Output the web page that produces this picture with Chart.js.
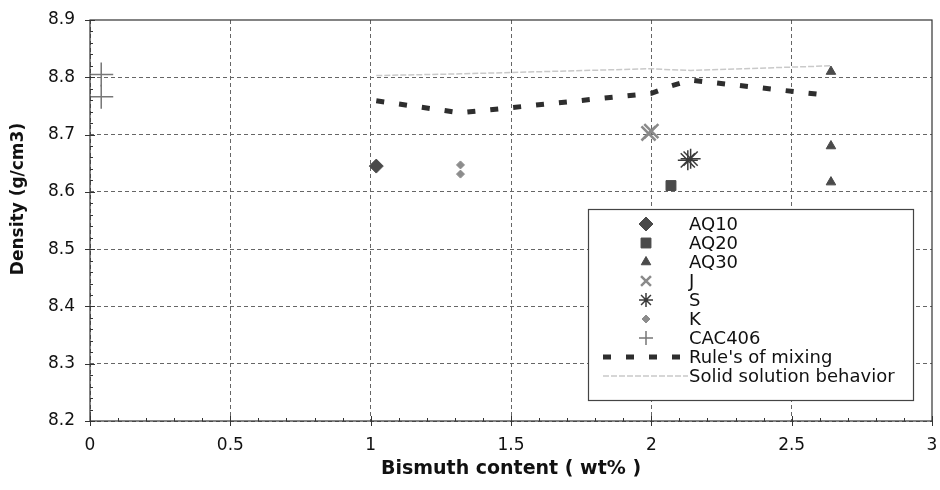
<!DOCTYPE html>
<html>
<head>
<meta charset="utf-8">
<script src="https://cdn.jsdelivr.net/npm/chart.js@4/dist/chart.umd.min.js"></script>
<style>
  html, body { margin: 0; padding: 0; background: #fff; }
  #wrap { width: 940px; height: 490px; position: relative; }
</style>
</head>
<body>
<div id="wrap"><canvas id="chart"></canvas></div>
<script>
// tick labels
const xTicks = [0, 0.5, 1, 1.5, 2, 2.5, 3];
const yTicks = [8.2, 8.3, 8.4, 8.5, 8.6, 8.7, 8.8, 8.9];

// measured densities (x = wt% Bi, y = g/cm3)
const aq10 = [[1.02, 8.645]];
const aq20 = [[2.07, 8.611]];
const aq30 = [[2.64, 8.81], [2.64, 8.68], [2.64, 8.617]];
const jSamples = [[1.99, 8.702], [2.0, 8.706]];
const sSamples = [[2.13, 8.655], [2.14, 8.658]];
const kSamples = [[1.32, 8.647], [1.32, 8.631]];
const cac406 = [[0.04, 8.805], [0.04, 8.766]];

// model curves
const modelX = [1.02, 1.32, 2.0, 2.07, 2.14, 2.64];
const mixingY = [8.759, 8.738, 8.772, 8.785, 8.795, 8.768];
const solidY = [8.803, 8.806, 8.815, 8.813, 8.812, 8.82];

const pts = arr => arr.map(p => ({ x: p[0], y: p[1] }));
const curve = ys => modelX.map((x, i) => ({ x: x, y: ys[i] }));
const FONT = '"DejaVu Sans", Arial, sans-serif';

const marker = (label, data, style, radius, color, width, filled) => ({
    label, data: pts(data), showLine: false,
    pointStyle: style, pointRadius: radius,
    pointBackgroundColor: filled ? color : 'transparent',
    pointBorderColor: color, pointBorderWidth: width
});

const datasets = [
    marker('AQ10', aq10, 'rectRot', 7, '#4a4a4a', 1, true),
    marker('AQ20', aq20, 'rect', 7, '#4a4a4a', 1, true),
    marker('AQ30', aq30, 'triangle', 5.5, '#4a4a4a', 1, true),
    marker('J', jSamples, 'crossRot', 10, '#8a8a8a', 2.5, false),
    marker('S', sSamples, 'star', 10, '#3a3a3a', 1.5, false),
    marker('K', kSamples, 'rectRot', 4, '#8c8c8c', 1, true),
    marker('CAC406', cac406, 'cross', 12, '#777777', 1.5, false),
    {
        label: "Rule's of mixing", data: curve(mixingY), showLine: true,
        borderColor: '#2e2e2e', borderWidth: 5, borderDash: [8, 15],
        pointRadius: 0, tension: 0
    },
    {
        label: 'Solid solution behavior', data: curve(solidY), showLine: true,
        borderColor: '#c9c9c9', borderWidth: 1.5, borderDash: [6, 2],
        pointRadius: 0, tension: 0
    }
];

// frame, minor ticks, y title and the boxed legend inside the plot
const decorations = {
    id: 'decorations',
    afterDatasetsDraw(chart) {
        const { ctx, chartArea: a, scales: { x, y } } = chart;
        ctx.save();
        ctx.strokeStyle = '#333';
        ctx.lineWidth = 1.2;
        ctx.setLineDash([]);
        ctx.strokeRect(a.left, a.top, a.right - a.left, a.bottom - a.top);

        // tick marks
        ctx.lineWidth = 1;
        for (let v = 0; v <= 3.0001; v += 0.1) {
            const px = Math.round(x.getPixelForValue(v)) + 0.5;
            const major = Math.abs(v * 2 - Math.round(v * 2)) < 1e-6;
            ctx.beginPath();
            ctx.moveTo(px, a.bottom - (major ? 5 : 3));
            ctx.lineTo(px, a.bottom + (major ? 5 : 0));
            ctx.stroke();
        }
        for (let v = 8.2; v <= 8.9001; v += 0.02) {
            const py = Math.round(y.getPixelForValue(v)) + 0.5;
            const major = Math.abs(v * 10 - Math.round(v * 10)) < 1e-6;
            ctx.beginPath();
            ctx.moveTo(a.left - (major ? 5 : 0), py);
            ctx.lineTo(a.left + (major ? 5 : 3), py);
            ctx.stroke();
        }

        // y axis title
        ctx.save();
        ctx.translate(19, 199);
        ctx.rotate(-Math.PI / 2);
        ctx.font = 'bold 17px ' + FONT;
        ctx.fillStyle = '#111';
        ctx.textAlign = 'center';
        ctx.textBaseline = 'middle';
        ctx.fillText('Density (g/cm3)', 0, 0);
        ctx.restore();

        // legend
        const bx = 588, by = 209, bw = 325, bh = 191;
        ctx.fillStyle = '#fff';
        ctx.fillRect(bx, by, bw, bh);
        ctx.strokeStyle = '#444';
        ctx.lineWidth = 1.2;
        ctx.strokeRect(bx + 0.5, by + 0.5, bw, bh);
        ctx.font = '18px ' + FONT;
        ctx.textBaseline = 'middle';
        ctx.textAlign = 'left';
        chart.data.datasets.forEach((ds, i) => {
            const cy = by + 15 + i * 19;
            if (ds.showLine) {
                ctx.save();
                ctx.strokeStyle = ds.borderColor;
                ctx.lineWidth = ds.borderWidth;
                ctx.setLineDash(ds.borderDash);
                ctx.beginPath();
                ctx.moveTo(603, cy);
                ctx.lineTo(688, cy);
                ctx.stroke();
                ctx.restore();
            } else {
                ctx.save();
                ctx.fillStyle = ds.pointBackgroundColor;
                ctx.strokeStyle = ds.pointBorderColor;
                ctx.lineWidth = ds.pointBorderWidth;
                Chart.helpers.drawPoint(ctx, {
                    pointStyle: ds.pointStyle,
                    radius: Math.min(ds.pointRadius, 7),
                    borderWidth: ds.pointBorderWidth
                }, 646, cy);
                ctx.restore();
            }
            ctx.fillStyle = '#111';
            ctx.fillText(ds.label, 689, cy + 1);
        });
        ctx.restore();
    }
};

const gridColor = max => c => (c.tick && Math.abs(c.tick.value - max) < 1e-6) ? 'transparent' : '#666';

new Chart(document.getElementById('chart'), {
    type: 'scatter',
    data: { datasets },
    options: {
        responsive: true,
        maintainAspectRatio: false,
        animation: false,
        layout: { autoPadding: false, padding: { left: 0, right: 8, top: 20, bottom: 0 } },
        plugins: { legend: { display: false }, tooltip: { enabled: false } },
        scales: {
            x: {
                type: 'linear', min: 0, max: 3,
                afterBuildTicks: s => { s.ticks = xTicks.map(v => ({ value: v })); },
                afterFit: s => { s.height = 69; s.paddingLeft = 0; s.paddingRight = 0; },
                grid: { color: gridColor(3), drawTicks: false, lineWidth: 1 },
                border: { display: false, dash: [4, 3] },
                ticks: {
                    padding: 14, color: '#111', font: { family: FONT, size: 17 },
                    callback: v => String(v)
                },
                title: {
                    display: true, text: 'Bismuth content ( wt% )', color: '#111',
                    font: { family: FONT, size: 19, weight: 'bold' },
                    padding: { top: 0, bottom: 10 }
                }
            },
            y: {
                type: 'linear', min: 8.2, max: 8.9,
                afterBuildTicks: s => { s.ticks = yTicks.map(v => ({ value: v })); },
                afterFit: s => { s.width = 90; s.paddingTop = 0; s.paddingBottom = 0; },
                grid: { color: gridColor(8.9), drawTicks: false, lineWidth: 1 },
                border: { display: false, dash: [4, 3] },
                ticks: {
                    padding: 15, color: '#111', font: { family: FONT, size: 17 },
                    callback: v => v.toFixed(1)
                },
                title: { display: false }
            }
        }
    },
    plugins: [decorations]
});
</script>
</body>
</html>
